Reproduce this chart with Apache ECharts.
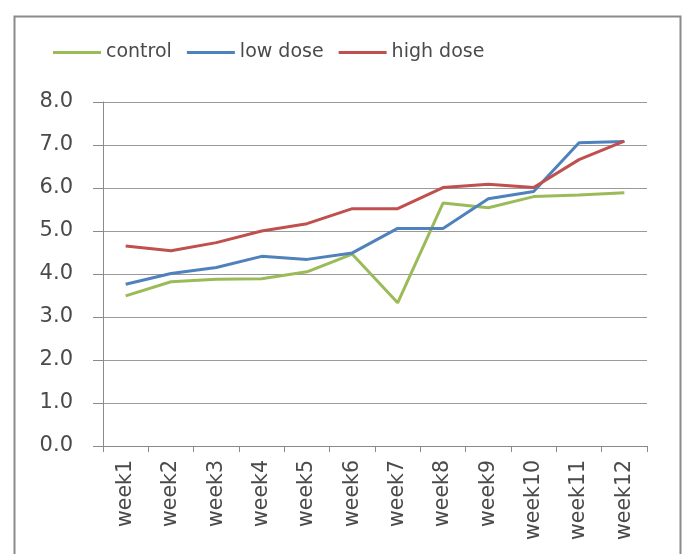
<!DOCTYPE html>
<html>
<head>
<meta charset="utf-8">
<script src="https://cdn.jsdelivr.net/npm/echarts@6/dist/echarts.min.js"></script>
<style>
html,body{margin:0;padding:0;background:#fff;}
#chart{width:683px;height:554px;}
</style>
</head>
<body>
<div id="chart"></div>
<script>
var categories = ['week1','week2','week3','week4','week5','week6','week7','week8','week9','week10','week11','week12'];
var controlValues = [3.49, 3.82, 3.88, 3.89, 4.05, 4.46, 3.33, 5.65, 5.54, 5.80, 5.84, 5.89];
var lowDoseValues = [3.76, 4.01, 4.15, 4.41, 4.34, 4.49, 5.06, 5.06, 5.75, 5.92, 7.05, 7.08];
var highDoseValues = [4.65, 4.54, 4.73, 5.00, 5.17, 5.52, 5.52, 6.01, 6.09, 6.01, 6.66, 7.09];
var seriesNames = ['control', 'low dose', 'high dose'];

var chart = echarts.init(document.getElementById('chart'));
var textColor = '#4a4a4a';
var font = 'DejaVu Sans';
function mk(name, data, color) {
  return {
    name: name, type: 'line', data: data, symbol: 'none', smooth: false,
    lineStyle: {color: color, width: 3}, itemStyle: {color: color}
  };
}
chart.setOption({
  animation: false,
  backgroundColor: '#fff',
  graphic: [{
    type: 'rect', left: 12, top: 14,
    shape: {x: 0, y: 0, width: 666, height: 560},
    style: {fill: 'none', stroke: '#8a8a8a', lineWidth: 2}
  }],
  legend: {
    left: 48, top: 38,
    icon: 'rect',
    itemWidth: 48, itemHeight: 3, itemGap: 15,
    data: seriesNames,
    textStyle: {fontFamily: font, fontSize: 19, color: textColor}
  },
  grid: {left: 103, right: 36, top: 102, bottom: 108, containLabel: false},
  xAxis: {
    type: 'category', data: categories, boundaryGap: true,
    axisLine: {lineStyle: {color: '#8a8a8a', width: 1}},
    axisTick: {show: true, length: 6, lineStyle: {color: '#8a8a8a'}},
    axisLabel: {rotate: 90, margin: 14, fontFamily: font, fontSize: 20.5, color: textColor, interval: 0}
  },
  yAxis: {
    type: 'value', min: 0, max: 8, interval: 1,
    axisLine: {show: true, lineStyle: {color: '#8a8a8a', width: 1}},
    axisTick: {show: true, length: 10, lineStyle: {color: '#8a8a8a'}},
    splitLine: {show: true, lineStyle: {color: '#9a9a9a', width: 1}},
    axisLabel: {margin: 30, fontFamily: font, fontSize: 21, color: textColor,
      formatter: function (v) { return v.toFixed(1); }}
  },
  series: [
    mk(seriesNames[0], controlValues, '#9BBB59'),
    mk(seriesNames[1], lowDoseValues, '#4F81BD'),
    mk(seriesNames[2], highDoseValues, '#C0504D')
  ]
});
</script>
</body>
</html>
